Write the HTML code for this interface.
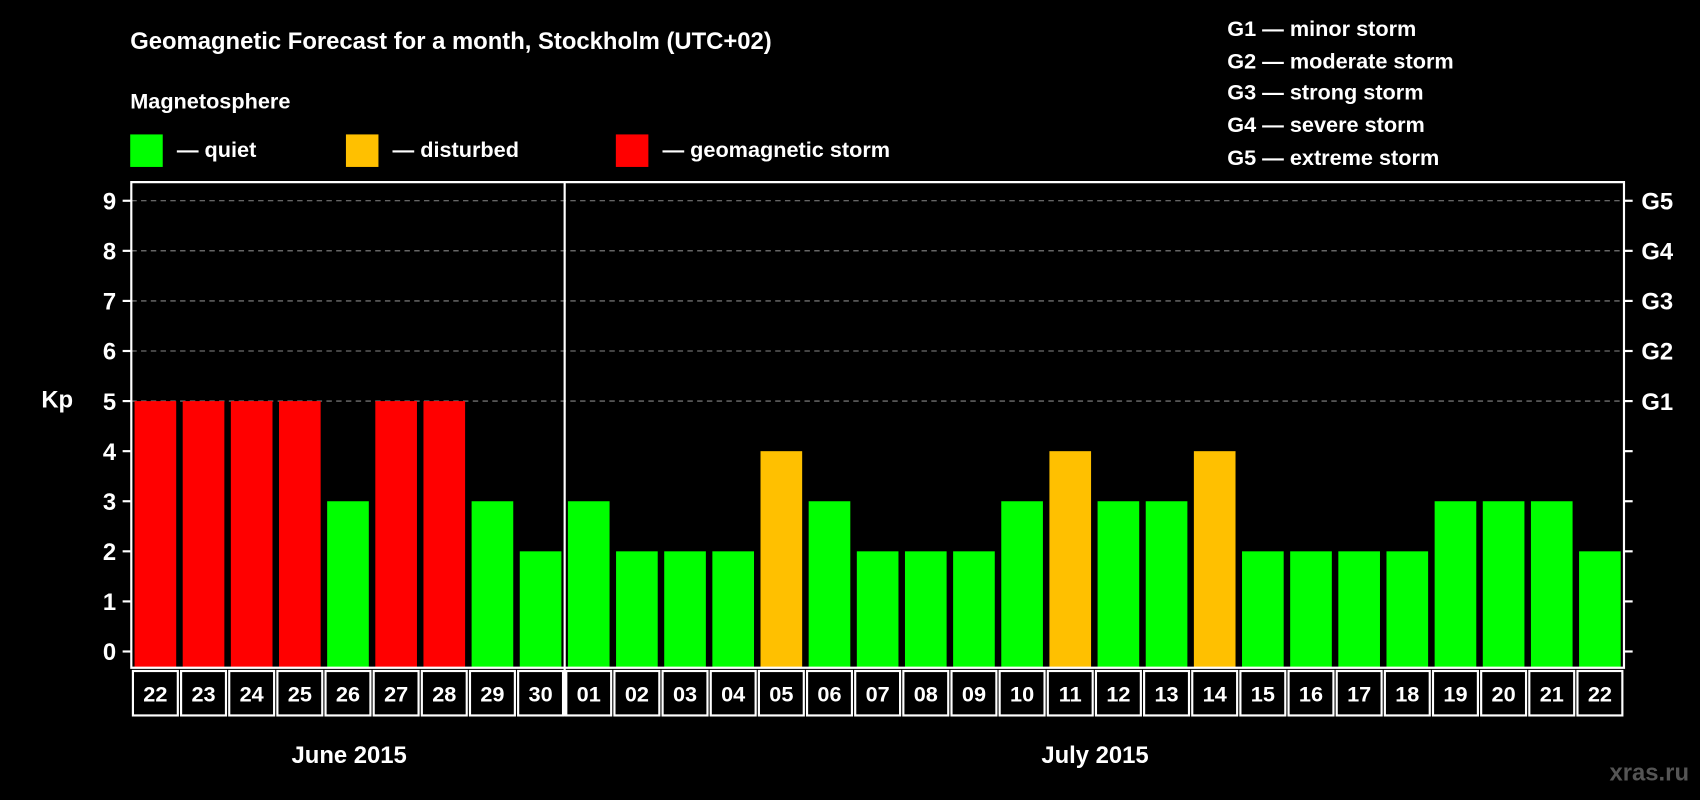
<!DOCTYPE html>
<html><head><meta charset="utf-8"><style>
html,body{margin:0;padding:0;background:#000;}
svg{display:block;font-family:"Liberation Sans",Arial,sans-serif;font-weight:bold;}
</style></head><body>
<svg width="1700" height="800" viewBox="0 0 1568 738" xmlns="http://www.w3.org/2000/svg">
<rect width="1568" height="738" fill="#000"/>
<text x="120" y="45" fill="#fff" font-size="22">Geomagnetic Forecast for a month, Stockholm (UTC+02)</text>
<text x="120" y="100" fill="#fff" font-size="20">Magnetosphere</text>
<g><rect x="120" y="124" width="30" height="30" fill="#00ff00"/><text x="163" y="145" fill="#fff" font-size="20">— quiet</text></g>
<g><rect x="319" y="124" width="30" height="30" fill="#ffc000"/><text x="362" y="145" fill="#fff" font-size="20">— disturbed</text></g>
<g><rect x="568" y="124" width="30" height="30" fill="#ff0000"/><text x="611" y="145" fill="#fff" font-size="20">— geomagnetic storm</text></g>
<g fill="#fff" font-size="20">
<text x="1132" y="33">G1 — minor storm</text>
<text x="1132" y="63">G2 — moderate storm</text>
<text x="1132" y="92">G3 — strong storm</text>
<text x="1132" y="122">G4 — severe storm</text>
<text x="1132" y="152">G5 — extreme storm</text>
</g>
<text x="38" y="376" fill="#fff" font-size="22">Kp</text>
<g id="plot"></g>
<text x="322" y="704" fill="#fff" font-size="22" text-anchor="middle">June 2015</text>
<text x="1010" y="704" fill="#fff" font-size="22" text-anchor="middle">July 2015</text>
<text x="1558" y="720" fill="#555" font-size="22" text-anchor="end">xras.ru</text>
</svg>
<script>
const days=["22","23","24","25","26","27","28","29","30","01","02","03","04","05","06","07","08","09","10","11","12","13","14","15","16","17","18","19","20","21","22"];
const kp=[5,5,5,5,3,5,5,3,2,3,2,2,2,4,3,2,2,2,3,4,3,3,4,2,2,2,2,3,3,3,2];
const yTicks=[0,1,2,3,4,5,6,7,8,9];
const gLabels={5:"G1",6:"G2",7:"G3",8:"G4",9:"G5"};
const NS="http://www.w3.org/2000/svg";
const g=document.getElementById('plot');
const L=121,R=1498,T=168,B=616;
const y=v=>601-v*46.2;
const step=(R-L)/days.length;
const x=i=>L+i*step;
function mk(t,a){const e=document.createElementNS(NS,t);for(const k in a)e.setAttribute(k,a[k]);g.appendChild(e);return e;}
yTicks.forEach(v=>{
 if(gLabels[v]){const d=mk('line',{x1:L,x2:R,y1:y(v),y2:y(v),stroke:'#888','stroke-dasharray':'5,4'});}
 const t1=mk('line',{x1:L-8,x2:L,y1:y(v),y2:y(v),stroke:'#fff','stroke-width':2});
 const t2=mk('line',{x1:R,x2:R+8,y1:y(v),y2:y(v),stroke:'#fff','stroke-width':2});
 const lb=mk('text',{x:L-14,y:y(v)+8,fill:'#fff','font-size':22,'text-anchor':'end'});lb.textContent=v;
 if(gLabels[v]){const gl=mk('text',{x:R+16,y:y(v)+8,fill:'#fff','font-size':22});gl.textContent=gLabels[v];}
});
kp.forEach((v,i)=>{
 const c=v>=5?'#ff0000':v==4?'#ffc000':'#00ff00';
 const b=mk('rect',{x:x(i)+3,y:y(v),width:step-6,height:B-y(v),fill:c});
 
 const bx=mk('rect',{x:x(i)+1.5,y:B+3,width:step-3,height:41,fill:'none',stroke:'#fff','stroke-width':2});
 
 const t=mk('text',{x:x(i)+step/2,y:B+31,fill:'#fff','font-size':20,'text-anchor':'middle'});t.textContent=days[i];
 
});
const fr=mk('path',{d:`M${L} ${B} L${L} ${T} L${R} ${T} L${R} ${B} Z`,fill:'none',stroke:'#fff','stroke-width':2});

const sx=x(9);
const sep=mk('line',{x1:sx,x2:sx,y1:T,y2:B+45,stroke:'#fff','stroke-width':2});

</script>
</body></html>
